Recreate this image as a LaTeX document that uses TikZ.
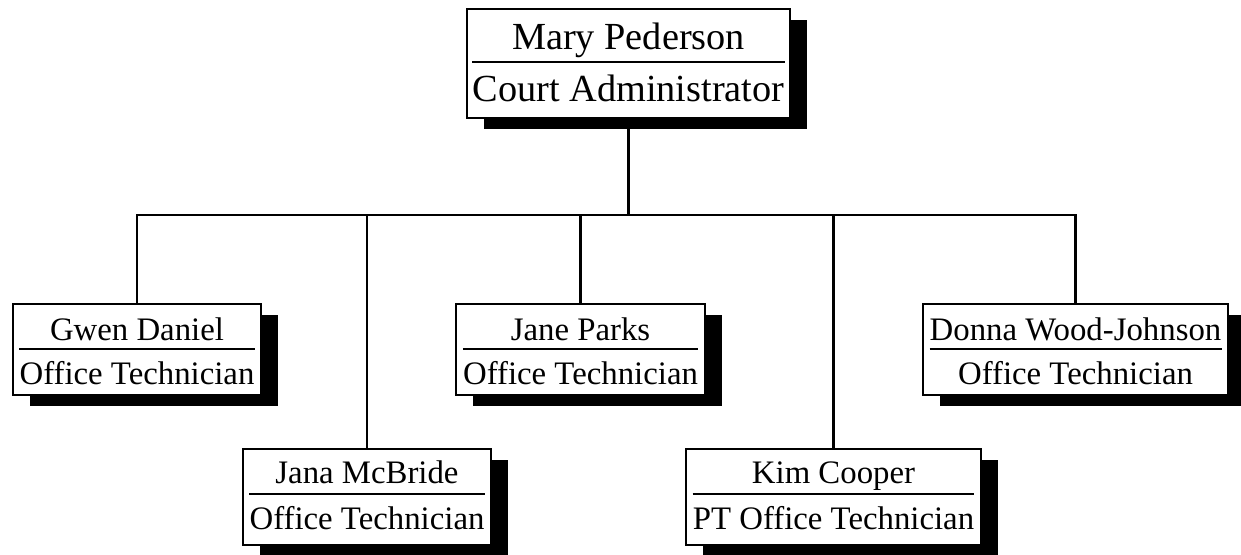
\documentclass[tikz,border=0pt]{standalone}
\usepackage{fontspec}
\setmainfont[Ligatures={TeX,NoCommon}]{Liberation Serif}
\usetikzlibrary{shadows,backgrounds}

\tikzset{
  wire/.style={line width=2.2pt},
  orgbox/.style={draw=black, line width=2.4pt, fill=white, inner sep=0pt,
    drop shadow={shadow xshift=17pt, shadow yshift=-11pt, fill=black, opacity=1}},
  staffbox/.style={orgbox, minimum width=#1},
  rowtop/.style={minimum height=91pt},
  rowlow/.style={minimum height=96pt},
  label/.style={inner sep=0pt, anchor=base, font=\fontsize{32.8}{36}\selectfont},
  headlabel/.style={inner sep=0pt, anchor=base, font=\fontsize{38.3}{42}\selectfont},
  sepline/.style={line width=1.1pt},
}

\begin{document}
\begin{tikzpicture}[x=1pt, y=-1pt]
\useasboundingbox (0,0) rectangle (1241,554);

% administrator
\node[orgbox, minimum width=323pt, minimum height=109pt] (boss) at (628.5,63.5) {};
\node[headlabel] (bossN) at (628.5,49.3) {Mary Pederson};
\node[headlabel] (bossR) at (628.5,101.7) {Court Administrator};
\draw[sepline] (bossR.west |- 0,62) -- (bossR.east |- 0,62);

% upper row of staff
\node[staffbox=248pt, rowtop] (gwen) at (137,349.5) {};
\node[label] (gwenN) at (137,340) {Gwen Daniel};
\node[label] (gwenR) at (137,384) {Office Technician};
\draw[sepline] (gwenR.west |- 0,349) -- (gwenR.east |- 0,349);

\node[staffbox=249pt, rowtop] (jane) at (580.5,349.5) {};
\node[label] (janeN) at (580.5,340) {Jane Parks};
\node[label] (janeR) at (580.5,384) {Office Technician};
\draw[sepline] (janeR.west |- 0,349) -- (janeR.east |- 0,349);

\node[staffbox=305pt, rowtop] (donna) at (1075.5,349.5) {};
\node[label] (donnaN) at (1075.5,340) {Donna Wood-Johnson};
\node[label] (donnaR) at (1075.5,384) {Office Technician};
\draw[sepline] (donnaN.west |- 0,349) -- (donnaN.east |- 0,349);

% lower row of staff
\node[staffbox=248pt, rowlow] (jana) at (367,497) {};
\node[label] (janaN) at (367,483.5) {Jana McBride};
\node[label] (janaR) at (367,529.5) {Office Technician};
\draw[sepline] (janaR.west |- 0,494) -- (janaR.east |- 0,494);

\node[staffbox=295pt, rowlow] (kim) at (833.5,497) {};
\node[label] (kimN) at (833.5,483.5) {Kim Cooper};
\node[label] (kimR) at (833.5,529.5) {PT Office Technician};
\draw[sepline] (kimR.west |- 0,494) -- (kimR.east |- 0,494);

% junction on the horizontal bus below the administrator
\coordinate (bus) at (628.5,215);

% connectors, kept underneath the boxes
\begin{scope}[on background layer]
  \draw[wire] (boss.south) -- (bus);
  \draw[wire] (gwen.north) -- (gwen.north |- bus) -- (donna.north |- bus) -- (donna.north);
  \draw[wire] (jana.north) -- (jana.north |- bus);
  \draw[wire] (jane.north) -- (jane.north |- bus);
  \draw[wire] (kim.north) -- (kim.north |- bus);
\end{scope}
\end{tikzpicture}
\end{document}
